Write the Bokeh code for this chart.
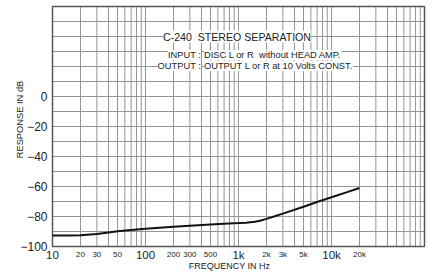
import math
from bokeh.plotting import figure
from bokeh.models import Label, Range1d
from bokeh.embed import file_html
from bokeh.resources import INLINE

# ---- data ----
freq_hz = [10, 15, 20, 30, 40, 50, 70, 100, 200, 300, 500, 700, 1000, 1200,
           1500, 1700, 2000, 2500, 3000, 5000, 7000, 10000, 15000, 20000]
separation_db = [-92.6, -92.6, -92.5, -91.6, -90.6, -89.9, -89.0, -88.2, -86.9,
                 -86.2, -85.4, -84.9, -84.4, -84.1, -83.5, -82.8, -81.6, -79.7,
                 -78.1, -73.5, -70.3, -67.2, -63.6, -61.0]

big_tick_values = [10, 100, 1000, 10000]
big_tick_labels = ["10", "100", "1k", "10k"]
small_tick_values = [20, 30, 50, 200, 300, 500, 2000, 3000, 5000, 20000]
small_tick_labels = ["20", "30", "50", "200", "300", "500", "2k", "3k", "5k", "20k"]
y_tick_values = [0, -20, -40, -60, -80, -100]
y_tick_labels = ["0", "\u221220", "\u221240", "\u221260", "\u221280", "\u2212100"]
x_grid_decades = [10, 100, 1000, 10000]
x_grid_multipliers = [1, 2, 3, 4, 5, 6, 7, 8, 9]
x_min, x_max = 10, 100000
y_min, y_max, y_step = -100, 60, 10

title_text = "C-240\u00a0 STEREO SEPARATION"
input_key, input_text = "INPUT :", "DISC L or R\u00a0 without HEAD AMP."
output_key, output_text = "OUTPUT :", "OUTPUT L or R at 10 Volts CONST."

# ---- layout (pixels inside the canvas) ----
W, H = 428, 274
PL, PR, PT, PB = 52, 424, 6, 246          # plot box edges
dec_px = (PR - PL) / math.log10(x_max / x_min)
db_px = (PB - PT) / (y_max - y_min)

def xd(px):   # canvas pixel -> frequency
    return x_min * 10 ** ((px - PL) / dec_px)

def yd(py):   # canvas pixel -> dB
    return y_max - (py - PT) / db_px

FONT = "Liberation Sans"
TXT = "#222222"

p = figure(width=W, height=H, x_axis_type="log",
           x_range=Range1d(xd(0), xd(W)), y_range=Range1d(yd(H), yd(0)),
           output_backend="svg", toolbar_location=None,
           min_border=0, min_border_left=0, min_border_right=0,
           min_border_top=0, min_border_bottom=0,
           background_fill_color="white", border_fill_color="white")
p.outline_line_color = None
p.xaxis.visible = False
p.yaxis.visible = False
p.xgrid.visible = False
p.ygrid.visible = False

# grid
xg = [d * m for d in x_grid_decades for m in x_grid_multipliers] + [x_max]
p.segment(x0=xg, y0=[y_min] * len(xg), x1=xg, y1=[y_max] * len(xg),
          line_color="#959595", line_width=1)
yg = list(range(y_min, y_max + 1, y_step))
p.segment(x0=[x_min] * len(yg), y0=yg, x1=[x_max] * len(yg), y1=yg,
          line_color="#959595", line_width=1)
# plot box
p.quad(left=[x_min], right=[x_max], bottom=[y_min], top=[y_max],
       fill_color=None, line_color="#555555", line_width=1.5)

# curve
p.line(freq_hz, separation_db, line_color="#111111", line_width=2)

def lab(x, y, text, size, align="center", bg=None, angle=0):
    p.add_layout(Label(x=x, y=y, text=text, text_font=FONT, text_font_size=size,
                       text_color=TXT, text_align=align, text_baseline="middle",
                       background_fill_color=bg, angle=angle))

# y tick labels
for v, t in zip(y_tick_values, y_tick_labels):
    lab(xd(PL - 5), v, t, "12px", align="right")

# x tick labels
for v, t in zip(big_tick_values, big_tick_labels):
    lab(v, yd(PB + 8.5), t, "11.5px")
for v, t in zip(small_tick_values, small_tick_labels):
    lab(v, yd(PB + 7.5), t, "8px")

# axis titles
lab(xd(229), yd(265), "FREQUENCY IN Hz", "9px")
lab(xd(19), yd(119), "RESPONSE IN dB", "9.3px", angle=math.pi / 2)

# title block
lab(xd(236.5), 40, title_text, "10.6px", bg="white")
for py, k, t in ((54.5, input_key, input_text), (65.5, output_key, output_text)):
    lab(xd(200.5), yd(py), k, "9.3px", align="right", bg="white")
    lab(xd(203.5), yd(py), t, "9.3px", align="left", bg="white")

open("out.html", "w").write(file_html(p, INLINE))
